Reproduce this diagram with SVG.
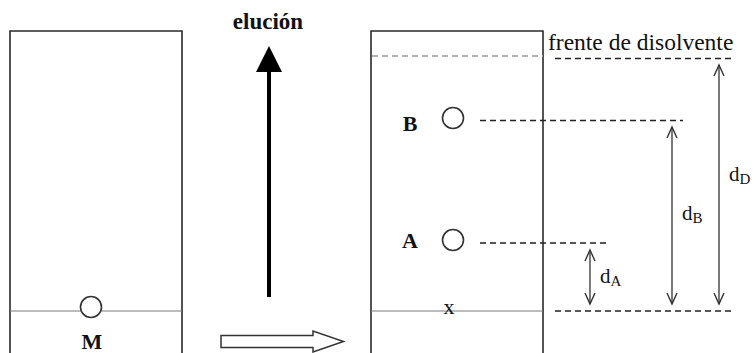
<svg xmlns="http://www.w3.org/2000/svg" width="755" height="353" viewBox="0 0 755 353">
  <style>
    .plate { fill: none; stroke: #2a2a2a; stroke-width: 1.6; }
    .origin { stroke: #7a7a7a; stroke-width: 1.2; }
    .spot { fill: #fff; stroke: #333; stroke-width: 1.6; }
    .lbl { font-family: "Liberation Serif", "Times New Roman", serif; fill: #111; }
    .bold { font-weight: bold; }
    .dash { stroke: #222; stroke-width: 1.4; stroke-dasharray: 6 4; fill: none; }
    .front { stroke: #9a9a9a; stroke-width: 1.4; stroke-dasharray: 6 4; fill: none; }
    .dim { stroke: #333; stroke-width: 1.3; fill: none; }
  </style>
  <defs>
    <marker id="openHead" viewBox="-13 -7 15 14" refX="0" refY="0" markerWidth="15" markerHeight="14" markerUnits="userSpaceOnUse" orient="auto-start-reverse">
      <path d="M-11,-5 L0,0 L-11,5" fill="none" stroke="#333" stroke-width="1.4"/>
    </marker>
  </defs>
  <rect width="755" height="353" fill="#fff"/>

  <!-- plate before elution -->
  <g id="plate-start">
    <path class="plate" d="M10,360 V31 H182 V360"/>
    <line class="origin" x1="10" y1="311" x2="182" y2="311"/>
    <circle class="spot" cx="91" cy="307" r="10.5"/>
    <text class="lbl bold" x="92" y="349" font-size="22" text-anchor="middle">M</text>
  </g>

  <!-- elution direction -->
  <g id="elution">
    <text class="lbl bold" x="268" y="29" font-size="23" text-anchor="middle">elución</text>
    <line x1="269" y1="70" x2="269" y2="297" stroke="#000" stroke-width="4"/>
    <polygon points="269,46 256,72 282,72" fill="#000"/>
  </g>

  <!-- transition arrow -->
  <g id="transition">
    <path d="M221,335.5 H313 V331 L343.5,341.5 L313,352 V347.5 H221 Z" fill="#fff" stroke="#333" stroke-width="1.5"/>
  </g>

  <!-- plate after elution -->
  <g id="plate-end">
    <path class="plate" d="M371,360 V31 H543 V360"/>
    <line class="origin" x1="371" y1="311" x2="543" y2="311"/>
    <line class="front" x1="372" y1="56" x2="543" y2="56"/>
    <text class="lbl" x="548" y="50" font-size="23.5">frente de disolvente</text>
    <text class="lbl" x="449" y="314" font-size="22" text-anchor="middle">x</text>
  </g>

  <g id="spot-B">
    <text class="lbl bold" x="410" y="131" font-size="22" text-anchor="middle">B</text>
    <circle class="spot" cx="453" cy="118" r="10.5"/>
  </g>

  <g id="spot-A">
    <text class="lbl bold" x="410" y="248" font-size="22" text-anchor="middle">A</text>
    <circle class="spot" cx="453" cy="240" r="10.5"/>
  </g>

  <!-- reference lines and distances -->
  <g id="connectors">
    <line class="dash" x1="555" y1="58.5" x2="734" y2="58.5"/>
    <line class="dash" x1="480" y1="120.5" x2="683" y2="120.5"/>
    <line class="dash" x1="480" y1="243" x2="606" y2="243"/>
    <line class="dash" x1="555" y1="311" x2="734" y2="311"/>

    <line class="dim" x1="590" y1="250" x2="590" y2="304" marker-start="url(#openHead)" marker-end="url(#openHead)"/>
    <line class="dim" x1="672" y1="127" x2="672" y2="304" marker-start="url(#openHead)" marker-end="url(#openHead)"/>
    <line class="dim" x1="719" y1="65" x2="719" y2="304" marker-start="url(#openHead)" marker-end="url(#openHead)"/>
  </g>

  <g id="labels">
    <text class="lbl" x="600" y="283" font-size="21">d<tspan font-size="15" dy="3">A</tspan></text>
    <text class="lbl" x="682" y="220" font-size="21">d<tspan font-size="15" dy="3">B</tspan></text>
    <text class="lbl" x="729" y="181" font-size="21">d<tspan font-size="15" dy="3">D</tspan></text>
  </g>
</svg>
